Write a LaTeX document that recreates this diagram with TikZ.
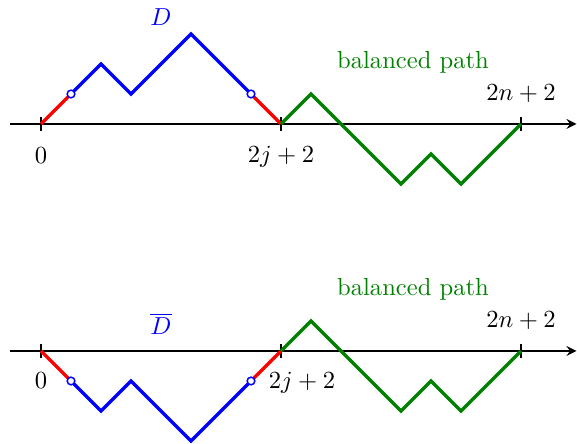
\documentclass[tikz,border=0pt]{standalone}
\begin{document}
\begin{tikzpicture}[x=0.4286cm, y=0.4286cm, >=stealth,
    step path/.style={line width=1.4pt, line join=miter},
    marker/.style={circle, draw=blue, fill=white, line width=0.6pt, inner sep=0pt, minimum size=1.1mm}]
        \useasboundingbox (-1.367,-10.667) rectangle (17.867,4.133);

        % Top: path D followed by the balanced path
        \draw[->, thick] (-1.03,0) -- (17.85,0);
        \foreach \t in {0,8,16} \draw[thick] (\t,-0.22) -- (\t,0.22);
        \draw[step path, red] (0,0) -- (1,1);
        \draw[step path, blue] (1,1) -- (2,2) -- (3,1) -- (5,3) -- (7,1);
        \draw[step path, red] (7,1) -- (8,0);
        \draw[step path, green!50!black] (8,0) -- (9,1) -- (12,-2) -- (13,-1) -- (14,-2) -- (16,0);
        \node[marker] (ma) at (1,1) {};
        \node[marker] (mb) at (7,1) {};

        % Labels
        \node[blue] (lblD) at (4,3.55) {$D$};
        \node[green!50!black] (lblbal) at (12.4,2.05) {balanced path};
        \node (lblend) at (16,1.0) {$2n+2$};
        \node (lblzero) at (0,-1.05) {$0$};
        \node (lblmid) at (8,-1.1) {$2j+2$};

        % Bottom: reflected path followed by the same balanced path
        \begin{scope}[shift={(0,-7.567)}]
        \draw[->, thick] (-1.03,0) -- (17.85,0);
        \foreach \t in {0,8,16} \draw[thick] (\t,-0.22) -- (\t,0.22);
        \draw[step path, red] (0,0) -- (1,-1);
        \draw[step path, blue] (1,-1) -- (2,-2) -- (3,-1) -- (5,-3) -- (7,-1);
        \draw[step path, red] (7,-1) -- (8,0);
        \draw[step path, green!50!black] (8,0) -- (9,1) -- (12,-2) -- (13,-1) -- (14,-2) -- (16,0);
        \node[marker] (mc) at (1,-1) {};
        \node[marker] (md) at (7,-1) {};

        % Labels
        \node[blue] (lblDbar) at (4,0.9) {$\overline{D}$};
        \node[green!50!black] (lblbalb) at (12.4,2.05) {balanced path};
        \node (lblendb) at (16,1.0) {$2n+2$};
        \node (lblzerob) at (0,-1.0) {$0$};
        \node (lblmidb) at (8.7,-1.05) {$2j+2$};
        \end{scope}
    \end{tikzpicture}
\end{document}
